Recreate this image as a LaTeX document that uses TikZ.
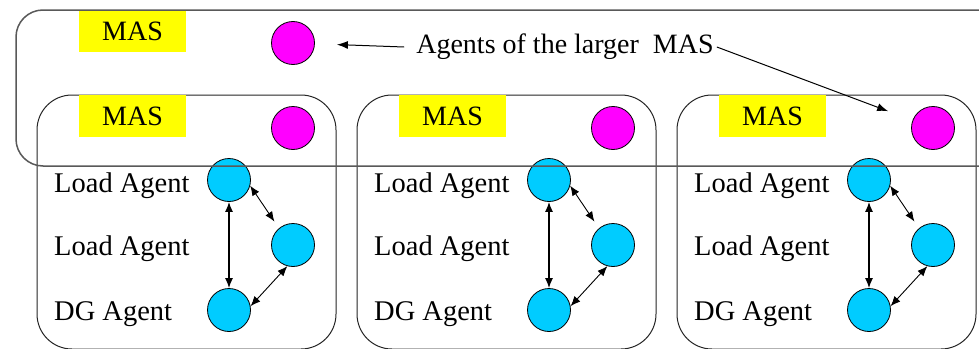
\documentclass[tikz,border=0pt]{standalone}
\usepackage{fontspec}
\setmainfont{Liberation Serif}
\usetikzlibrary{arrows.meta}
\definecolor{masagent}{RGB}{255,0,255}
\definecolor{localagent}{RGB}{0,204,255}
\definecolor{tagyellow}{RGB}{255,255,0}
\tikzset{
  agent/.style={circle, draw=black, line width=0.8pt, minimum size=43pt, inner sep=0pt},
  mas agent/.style={agent, fill=masagent},
  local agent/.style={agent, fill=localagent},
  tag/.style={fill=tagyellow, minimum width=107pt, minimum height=42pt, inner sep=0pt,
              font=\rmfamily\fontsize{28}{30}\selectfont},
  lbl/.style={anchor=west, inner sep=0pt, font=\rmfamily\fontsize{28.5}{30}\selectfont},
  link/.style={{Latex[length=10pt,width=8pt]}-{Latex[length=10pt,width=8pt]}, line width=1pt},
  pointer/.style={-{Latex[length=11pt,width=8pt]}, line width=1pt},
  subsystem/.style={draw=black!85, line width=1pt, rounded corners=35pt,
                    minimum width=299pt, minimum height=254pt, inner sep=0pt},
  system/.style={draw=black!65, line width=1.5pt, rounded corners=27pt,
                 minimum width=1004pt, minimum height=156pt, inner sep=0pt},
}
\begin{document}
\begin{tikzpicture}[x=1pt,y=-1pt]
\useasboundingbox (0,0) rectangle (979,348);
\clip (0,0) rectangle (979,348);
\fill[white] (0,0) rectangle (979,348);

% the three member systems
\foreach \i/\dx in {1/0,2/320,3/640}{
  \node[subsystem] (box\i) at (186.5+\dx,222) {};
  \node[tag] (tag\i) at (132.5+\dx,116) {MAS};
  \node[mas agent] (p\i) at (293+\dx,128) {};
  \node[local agent] (la\i) at (229+\dx,180) {};
  \node[local agent] (lb\i) at (293+\dx,245) {};
  \node[local agent] (dg\i) at (229+\dx,310) {};
  \node[lbl] (lla\i) at (54+\dx,186) {Load Agent};
  \node[lbl] (llb\i) at (54+\dx,249) {Load Agent};
  \node[lbl] (ldg\i) at (54+\dx,314) {DG Agent};
  \draw[link, line width=1.3pt] (la\i) -- (dg\i);
  \draw[link, line width=0.9pt, shorten >=8pt] (la\i.-15) -- (lb\i.130);
  \draw[link, line width=0.9pt] (dg\i.10) -- (lb\i.-105);
}

% the larger system
\node[tag] (tag0) at (132.5,31) {MAS};
\node[mas agent] (p0) at (293,43) {};
\node[inner sep=0pt, font=\rmfamily\fontsize{28}{30}\selectfont] (agents) at (565,47)
  {Agents of the larger\ \ MAS};
\draw[pointer, shorten >=22pt] ([xshift=-12pt]agents.west) -- (p0);
\draw[pointer, shorten >=26pt] ([xshift=3pt]agents.east) -- (p3);
\node[system] (mas) at (518,88) {};
\end{tikzpicture}
\end{document}
